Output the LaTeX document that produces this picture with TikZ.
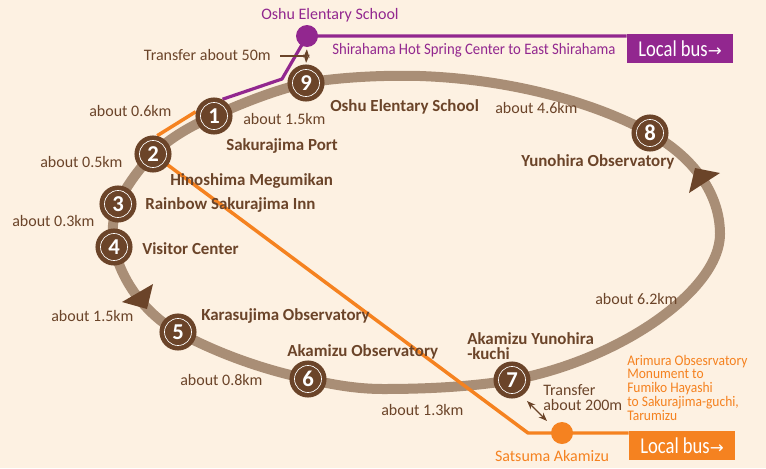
\documentclass[tikz,border=0pt]{standalone}
\usepackage{xcolor}
\usepackage{fontspec}
\setmainfont{Carlito}
\newfontfamily\arrowfont{DejaVu Sans}
\newfontfamily\narrowfont[FakeStretch=0.92]{Carlito}
\newfontfamily\busfont[FakeStretch=0.82]{Carlito}
\usetikzlibrary{arrows.meta, positioning, backgrounds}
\definecolor{pagecream}{HTML}{FDF1E2}
\definecolor{trackbrown}{HTML}{A98E76}
\definecolor{stopbrown}{HTML}{6B4429}
\definecolor{linepurple}{HTML}{92278F}
\definecolor{lineorange}{HTML}{F58220}

\begin{document}
\begin{tikzpicture}[x=0.75pt, y=-0.75pt, font=\fontsize{12}{11.3}\selectfont, text=stopbrown,
    stopnum/.style={circle, fill=stopbrown, minimum size=27.8pt, inner sep=0pt, text=white,
      font=\fontsize{17}{17}\selectfont\bfseries,
      path picture={\draw [white, line width=0.5pt] (path picture bounding box.center) circle (13.5);}},
    dist/.style={anchor=west, inner sep=0pt},
    place/.style={anchor=west, inner sep=0pt, font=\fontsize{12.7}{11.4}\selectfont\bfseries, align=left},
    busdot/.style={circle, minimum size=16.5pt, inner sep=0pt},
    busbox/.style={rectangle, minimum width=79.5pt, minimum height=21.75pt, inner sep=0pt, text=white,
      font=\fontsize{17}{17}\busfont},
    transfer/.style={{Stealth[scale=0.9]}-{Stealth[scale=0.9]}, line width=0.9pt, stopbrown}]

    \useasboundingbox (0,0) rectangle (766,468);

    % stops
    \foreach \i/\x/\y in {1/214/116, 2/153/154, 3/118/204, 4/114/247, 5/178/332, 6/308/379, 7/512/380, 8/650/133, 9/306/83} {
      \node (s\i) [stopnum] at (\x,\y) {\i};
    }

    % bus connections
    \node (dotP) [busdot, fill=linepurple] at (307,36) {};
    \node (dotO) [busdot, fill=lineorange] at (562,433) {};
    \node (boxP) [busbox, fill=linepurple] at (680,48.5) {Local bus{\arrowfont\fontsize{12.5}{12.5}\selectfont→}};
    \node (boxO) [busbox, fill=lineorange] at (682,445.5) {Local bus{\arrowfont\fontsize{12.5}{12.5}\selectfont→}};
    \coordinate (bendP) at (282,79);
    \coordinate (bendO) at (528,433);

    % stop names
    \node (n9) [place] at (330,107) {Oshu Elentary School};
    \node (n1) [place] at (226,146) {Sakurajima Port};
    \node (n2) [place] at (170,181) {Hinoshima Megumikan};
    \node (n3) [place] at (145,205) {Rainbow Sakurajima Inn};
    \node (n4) [place] at (142,249) {Visitor Center};
    \node (n5) [place] at (201,316) {Karasujima Observatory};
    \node (n6) [place] at (287,352) {Akamizu Observatory};
    \node (n7) [place] at (467,346.5) {Akamizu Yunohira\\-kuchi};
    \node (n8) [place] at (521,162) {Yunohira Observatory};

    % distances
    \foreach \i/\x/\y/\t in {a/89/111/0.6, b/243/119/1.5, c/40/162/0.5, d/12/221/0.3, e/51/316/1.5, f/180/380/0.8, g/381/410/1.3, h/595/299/6.2, j/495/108/4.6} {
      \node (d\i) [dist] at (\x,\y) {about \t km};
    }

    % transfers and line names
    \node (xfer9) [dist, anchor=east] at (271,55) {Transfer about 50m};
    \node (xfer7) [dist, align=left] at (543,397.5) {Transfer\\about 200m};
    \node (topP) [dist, anchor=center, text=linepurple] at (330,15) {Oshu Elentary School};
    \node (subP) [dist, text=linepurple, font=\fontsize{12}{12}\narrowfont] at (332,50) {Shirahama Hot Spring Center to East Shirahama};
    \node (botO) [dist, anchor=center, text=lineorange] at (552,456) {Satsuma Akamizu};
    \node (subO) [dist, text=lineorange, align=left, font=\fontsize{11}{10.3}\narrowfont] at (627,387.5) {Arimura Obsesrvatory\\Monument to\\Fumiko Hayashi\\to Sakurajima-guchi,\\Tarumizu};
    \coordinate (xferA) at (527,401);
    \coordinate (xferB) at (547,421);
    \coordinate (xfer9end) at (306,56);
    \coordinate (topT) at (420,76);
    \coordinate (eastT) at (720,234);
    \coordinate (botT) at (383,389);

    \begin{scope}[on background layer]
      \fill [pagecream] (0,0) rectangle (766,468);
      % loop line
      \draw [trackbrown, line width=7.5pt] (s9.center)
        .. controls (340,77) and (385,75) .. (topT)
        .. controls (505,79) and (590,100) .. (s8.center)
        .. controls (695,158) and (720,195) .. (eastT)
        .. controls (720,290) and (620,360) .. (s7.center)
        .. controls (470,387) and (425,389) .. (botT)
        .. controls (355,389) and (330,384) .. (s6.center)
        .. controls (260,369) and (215,352) .. (s5.center)
        .. controls (150,317) and (122,285) .. (s4.center)
        .. controls (112,232) and (112,218) .. (s3.center)
        .. controls (125,188) and (138,170) .. (s2.center)
        .. controls (170,138) and (192,125) .. (s1.center)
        .. controls (240,104) and (275,90) .. (s9.center);
      \fill [stopbrown] (695,168) -- (720,173) -- (689,193) -- cycle;
      \fill [stopbrown] (153,284) -- (122,302) -- (147,309) -- cycle;
      \draw [linepurple, line width=2.4pt, line join=round] (s1.63) -- (bendP) -- (dotP.center) -- (boxP.north west |- dotP);
      \draw [lineorange, line width=2.6pt] (s1.167) -- (s2.77);
      \draw [lineorange, line width=2.6pt, line join=round] (s2.center) -- (bendO) -- (dotO.center) -- (boxO.west |- dotO);
      \draw [stopbrown, line width=0.8pt] (xfer9.east) ++(9,1) -- (xfer9end);
      \draw [transfer, shorten >=1pt, shorten <=1.5pt] (dotP.south) -- (s9.north);
      \draw [transfer] (xferA) -- (xferB);
    \end{scope}
\end{tikzpicture}
\end{document}
